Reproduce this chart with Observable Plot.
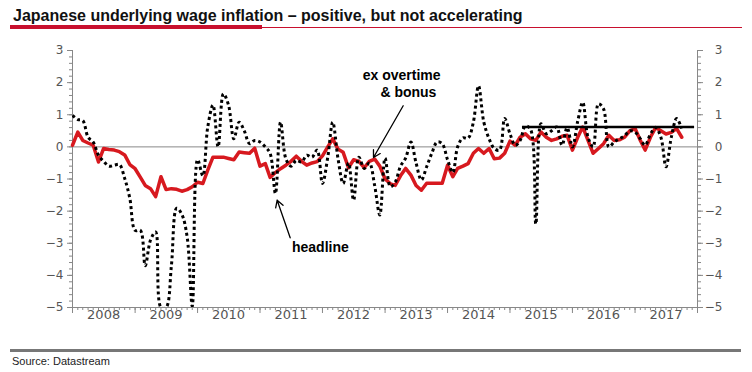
<!DOCTYPE html>
<html><head><meta charset="utf-8">
<script src="https://cdn.jsdelivr.net/npm/d3@7"></script>
<script src="https://cdn.jsdelivr.net/npm/@observablehq/plot@0.6"></script>
<style>
body{margin:0;background:#fff;font-family:"Liberation Sans",Arial,sans-serif;}
#wrap{position:relative;width:752px;height:372px;overflow:hidden;background:#fff;}
#title{position:absolute;left:13px;top:7px;font-family:"Liberation Sans",Arial,sans-serif;font-weight:bold;font-size:16px;color:#111;white-space:nowrap;}
#bar{position:absolute;left:10px;top:25px;width:252px;height:4px;background:#c8102e;}
#thin{position:absolute;left:262px;top:27px;width:480px;height:1px;background:#c8102e;}
#chart{position:absolute;left:0;top:36px;}
#sep{position:absolute;left:10px;top:349px;width:731px;height:3px;background:#777;}
#source{position:absolute;left:12px;top:355px;font-size:11px;color:#222;}
</style></head><body>
<div id="wrap">
<div id="title">Japanese underlying wage inflation – positive, but not accelerating</div>
<div id="bar"></div><div id="thin"></div>
<div id="chart"></div>
<div id="sep"></div>
<div id="source">Source: Datastream</div>
</div>
<script>
// monthly series, Jan 2008 onwards (% y/y)
const headline = [0.98,0.85,0.82,0.3,0.15,-0.26,-0.45,-0.6,-0.57,-0.55,-0.98,-1.6,
-2.6,-2.6,-3.7,-2.9,-2.65,-5.0,-5.0,-3.7,-1.91,-2.1,-2.8,-4.96,
-0.4,-0.9,0.6,1.3,0.0,1.65,1.3,0.25,0.77,0.5,0.1,0.2,
0.15,0.0,-0.2,-1.45,0.77,-0.37,-0.6,-0.42,-0.47,-0.26,-0.32,-0.1,
-1.14,-0.32,0.77,-0.37,-1.14,-0.5,-1.66,-0.32,-0.67,-0.5,-1.2,-2.12,
-0.35,-1.24,-1.1,-0.6,-0.35,0.15,-0.5,-1.03,-0.62,-0.2,0.15,0.1,
-0.4,-0.8,0.0,0.28,0.27,0.77,1.9,0.77,0.25,-0.05,-0.1,0.88,
0.41,0.05,0.2,0.65,0.55,-2.4,0.72,0.41,0.5,0.62,0.05,0.6,
0.0,0.8,1.39,0.3,0.0,1.34,1.18,0.0,0.15,0.25,0.35,0.5,
0.46,0.25,0.05,0.4,0.6,0.3,-0.62,0.3,0.88,0.57];
const exOvertime = [0.05,0.46,0.2,0.12,0.05,-0.47,-0.05,-0.08,-0.1,-0.15,-0.25,-0.55,
-0.68,-0.95,-1.2,-1.3,-1.55,-0.93,-1.33,-1.3,-1.32,-1.38,-1.33,-1.24,
-1.1,-1.14,-0.73,-0.32,-0.32,-0.32,-0.36,-0.4,-0.16,-0.18,-0.2,-0.04,
-0.6,-0.52,-0.95,-0.8,-0.68,-0.57,-0.45,-0.29,-0.45,-0.57,-0.5,-0.46,
-0.28,0.0,0.25,-0.07,-0.17,-0.65,-0.4,-0.45,-0.65,-0.45,-0.38,-0.6,
-1.0,-1.15,-1.2,-0.9,-0.67,-0.88,-1.2,-1.35,-1.13,-1.13,-1.13,-1.13,
-0.57,-0.93,-0.67,-0.6,-0.52,-0.2,-0.05,-0.2,-0.05,-0.37,-0.35,-0.2,
0.18,0.05,0.3,0.41,0.25,0.2,0.46,0.3,0.2,0.25,0.33,0.36,
-0.1,0.3,0.62,0.2,-0.2,-0.05,0.1,0.36,0.2,0.22,0.3,0.5,
0.57,0.2,-0.1,0.3,0.6,0.5,0.4,0.45,0.57,0.3];
const yTickValues = [-5,-4,-3,-2,-1,0,1,2,3];
const yearLabels = [2008,2009,2010,2011,2012,2013,2014,2015,2016,2017];
// reference level drawn since 2015
const refLevel = 0.62, refStart = "2015-03-15", refEnd = "2017-12-15";
// annotations (month index from Jan 2008, value)
const labelText = ["ex overtime", "& bonus", "headline"];
const labelMonth = [63.2, 64.5, 47.6];
const labelValue = [2.21, 1.69, -3.14];
const arrowMonthFrom = [63.5, 41.8], arrowValueFrom = [1.28, -2.83];
const arrowMonthTo = [57.8, 39.3], arrowValueTo = [-0.33, -1.66];

const t0 = Date.UTC(2008,0,1);
const monthDate = m => new Date(t0 + m * 30.4375 * 864e5);
const start = new Date(t0), end = new Date(Date.UTC(2018,0,1));
const rows = headline.map((h,i) => ({date:new Date(Date.UTC(2008,i,1)), headline:h, ex:exOvertime[i]}));
const months = d3.utcMonth.range(start, end);
const years = d3.utcYear.range(start, new Date(Date.UTC(2018,0,2)));
const midYears = yearLabels.map(y => new Date(Date.UTC(y,6,1)));
const minorY = d3.range(-25, 16).map(k => k/5);
const labels = labelText.map((t,i) => ({t, x:monthDate(labelMonth[i]), y:labelValue[i]}));
const arrows = arrowMonthFrom.map((m,i) => ({x1:monthDate(m), y1:arrowValueFrom[i], x2:monthDate(arrowMonthTo[i]), y2:arrowValueTo[i]}));
const blank = () => "";

const chart = Plot.plot({
  width: 752, height: 295,
  marginLeft: 72, marginRight: 55, marginTop: 14, marginBottom: 24,
  x: {type: "utc", domain: [start, end]},
  y: {domain: [-5, 3]},
  style: {fontFamily: "DejaVu Sans, sans-serif", fontSize: "11px", color: "#555", background: "white"},
  marks: [
    Plot.ruleY([0], {stroke: "#888", strokeWidth: 1}),
    Plot.ruleY([-5], {stroke: "#888"}),
    Plot.ruleX([start, end], {stroke: "#888"}),
    Plot.axisY({anchor: "left", ticks: yTickValues, tickSize: 5, tickPadding: 4, label: null, stroke: "#888", fill: "#555", fontSize: 12}),
    Plot.axisY({anchor: "left", ticks: minorY, tickSize: 3, tickFormat: blank, label: null, stroke: "#888"}),
    Plot.axisY({anchor: "right", ticks: yTickValues, tickSize: 5, tickPadding: 20, textAnchor: "end", label: null, stroke: "#888", fill: "#555", fontSize: 12}),
    Plot.axisY({anchor: "right", ticks: minorY, tickSize: 3, tickFormat: blank, label: null, stroke: "#888"}),
    Plot.axisX({ticks: months, tickSize: 3, tickFormat: blank, label: null, stroke: "#888"}),
    Plot.axisX({ticks: years, tickSize: 6, tickFormat: blank, label: null, stroke: "#888"}),
    Plot.axisX({ticks: midYears, tickSize: 0, tickPadding: 2, tickFormat: "%Y", label: null, fill: "#555", fontSize: 13, style: "letter-spacing:1.5px"}),
    Plot.line(rows, {x: "date", y: "ex", stroke: "#d7191f", strokeWidth: 3.5, strokeLinejoin: "round"}),
    Plot.line(rows, {x: "date", y: "headline", stroke: "black", strokeWidth: 3, strokeDasharray: "3,3", strokeLinecap: "butt", curve: "catmull-rom", clip: true}),
    Plot.ruleY([refLevel], {x1: new Date(refStart), x2: new Date(refEnd), stroke: "black", strokeWidth: 2.5}),
    Plot.arrow(arrows, {x1: "x1", y1: "y1", x2: "x2", y2: "y2", stroke: "black", strokeWidth: 1.3, headLength: 9}),
    Plot.text(labels, {x: "x", y: "y", text: "t", fill: "black", fontSize: 14, fontWeight: "bold", fontFamily: "Liberation Sans, Arial, sans-serif"})
  ]
});
document.getElementById("chart").appendChild(chart);
</script>
</body></html>
